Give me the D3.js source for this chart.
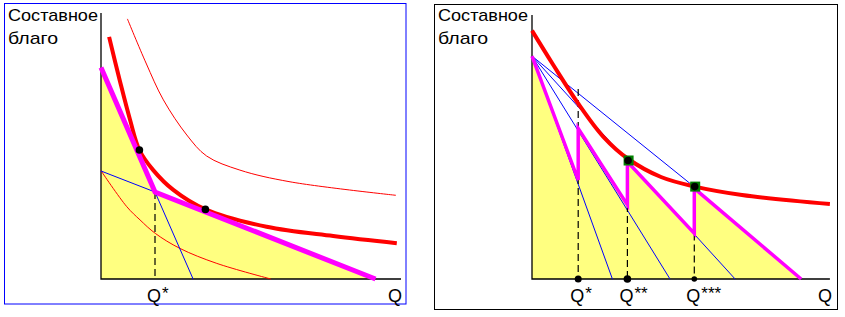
<!DOCTYPE html>
<html><head><meta charset="utf-8">
<script src="https://cdn.jsdelivr.net/npm/d3@7"></script>
<style>html,body{margin:0;padding:0;background:#fff;}svg{display:block;}</style>
</head><body>
<svg id="c" width="845" height="317"></svg>
<script>
// ---------- data (units: Q along x, composite good along y) ----------
const yLabelLines = ["Составное", "благо"];
const xAxisLabel = "Q";

// Left panel
const leftAxisMax = {x: 10, y: 8.87};
const leftBudget = [[0, 7.05], [1.8, 2.9], [9.15, 0]];
const leftBlue = [[0, 3.6], [1.8, 2.9], [3.07, 0]];
const leftIndiffMain = [[0.27, 8.07], [0.63, 6.6], [0.97, 5.3], [1.28, 4.3], [1.74, 3.63], [2.41, 2.97], [3.48, 2.32], [5.52, 1.74], [7.74, 1.43], [9.86, 1.19]];
const leftIndiffHigh = [[0.88, 8.67], [1.5, 7.2], [2.08, 5.97], [2.86, 4.8], [3.52, 4.1], [4.63, 3.63], [6.3, 3.24], [9.83, 2.79]];
const leftIndiffLow = [[0, 3.61], [0.86, 2.41], [1.3, 1.97], [1.81, 1.52], [2.63, 1.02], [3.86, 0.52], [5.66, 0]];
const leftTangency = [[1.28, 4.3], [3.48, 2.32]];
const leftQStar = {q: 1.8, top: 2.9};
const leftQLabels = [{q: 1.8, stars: 1}];

// Right panel
const rightAxisMax = {x: 9.93, y: 8.8};
const rightBudget = [[0, 7.43], [1.54, 3.3], [1.54, 5.02], [3.18, 2.47], [3.18, 3.91], [5.41, 1.52], [5.41, 3.02], [8.97, 0]];
const rightRayOrigin = [0, 7.43];
const rightRayEnds = [[2.68, 0], [4.6, 0], [6.77, 0], [5.41, 3.07]];
const rightIndiff = [[0, 8.28], [0.7, 7.15], [1.54, 5.85], [2.38, 4.74], [3.21, 4.0], [4.3, 3.4], [5.43, 3.08], [7.0, 2.8], [9.93, 2.5]];
const rightOptima = [[3.22, 3.95], [5.44, 3.08]];
const rightDrops = [{q: 1.54, top: 6.33}, {q: 3.18, top: 2.47}, {q: 5.41, top: 1.52}];
const rightAxisDots = [{q: 1.54, r: 3.5}, {q: 3.18, r: 3.8}, {q: 5.41, r: 2.8}];
const rightQLabels = [{q: 1.54, stars: 1}, {q: 3.18, stars: 2}, {q: 5.41, stars: 3}];

// ---------- drawing ----------
const svg = d3.select("#c");
const FONT = "'Liberation Sans', Arial, sans-serif";

function panel(opt) {
  const x = d3.scaleLinear([0, 10], [opt.x0, opt.x0 + 300]);
  const y = d3.scaleLinear([0, 9], [279, 9]);
  const g = svg.append("g");
  const line = d3.line().x(d => x(d[0])).y(d => y(d[1]));
  const curve = d3.line().x(d => x(d[0])).y(d => y(d[1])).curve(d3.curveCatmullRom.alpha(0.5));

  g.append("rect").attr("x", opt.border[0]).attr("y", opt.border[1])
    .attr("width", opt.border[2]).attr("height", opt.border[3])
    .attr("fill", "none").attr("stroke", opt.borderColor).attr("stroke-width", 1);

  // yellow budget set
  const poly = [[0, 0]].concat(opt.budget).concat([[opt.budget[opt.budget.length - 1][0], 0]]);
  g.append("path").attr("d", line(poly) + "Z").attr("fill", "#ffff80").attr("stroke", "none");

  // axes
  g.append("path").attr("d", line([[0, opt.axisMax.y], [0, 0], [opt.axisMax.x, 0]]))
    .attr("fill", "none").attr("stroke", "#000").attr("stroke-width", 1.3);

  return {g, x, y, line, curve};
}

// LEFT
const L = panel({x0: 101, border: [4.5, 3.5, 401.5, 300.5], borderColor: "#0000ff", axisMax: leftAxisMax, budget: leftBudget});
L.g.append("path").attr("d", L.curve(leftIndiffLow)).attr("fill", "none").attr("stroke", "#ff0000").attr("stroke-width", 1);
L.g.append("path").attr("d", L.curve(leftIndiffHigh)).attr("fill", "none").attr("stroke", "#ff0000").attr("stroke-width", 1);
L.g.append("path").attr("d", L.line([[leftQStar.q, leftQStar.top], [leftQStar.q, 0]]))
  .attr("stroke", "#000").attr("stroke-width", 1.2).attr("stroke-dasharray", "7,4");
L.g.append("path").attr("d", L.line(leftBlue)).attr("fill", "none").attr("stroke", "#0000ff").attr("stroke-width", 1);
L.g.append("path").attr("d", L.curve(leftIndiffMain)).attr("fill", "none").attr("stroke", "#ff0000").attr("stroke-width", 4);
L.g.append("path").attr("d", L.line(leftBudget)).attr("fill", "none").attr("stroke", "#ff00ff").attr("stroke-width", 5);
L.g.selectAll("circle.t").data(leftTangency).join("circle")
  .attr("cx", d => L.x(d[0])).attr("cy", d => L.y(d[1])).attr("r", 3.8).attr("fill", "#000");

// RIGHT
const R = panel({x0: 532, border: [434.5, 4.5, 403, 305], borderColor: "#000", axisMax: rightAxisMax, budget: rightBudget});
R.g.selectAll("path.ray").data(rightRayEnds).join("path")
  .attr("d", d => R.line([rightRayOrigin, d])).attr("fill", "none").attr("stroke", "#0000ff").attr("stroke-width", 1);
R.g.selectAll("path.drop").data(rightDrops).join("path")
  .attr("d", d => R.line([[d.q, d.top], [d.q, 0]]))
  .attr("stroke", "#000").attr("stroke-width", 1.2).attr("stroke-dasharray", "7,4");
R.g.append("path").attr("d", R.curve(rightIndiff)).attr("fill", "none").attr("stroke", "#ff0000").attr("stroke-width", 4);
R.g.append("path").attr("d", R.line(rightBudget)).attr("fill", "none").attr("stroke", "#ff00ff").attr("stroke-width", 3.5).attr("stroke-linejoin", "miter");
R.g.selectAll("rect.opt").data(rightOptima).join("rect")
  .attr("x", d => R.x(d[0]) - 5).attr("y", d => R.y(d[1]) - 5).attr("width", 10).attr("height", 10).attr("fill", "#007f00");
R.g.selectAll("circle.opt").data(rightOptima).join("circle")
  .attr("cx", d => R.x(d[0]) - 0.5).attr("cy", d => R.y(d[1])).attr("r", 3.8).attr("fill", "#000");
R.g.selectAll("circle.ax").data(rightAxisDots).join("circle")
  .attr("cx", d => R.x(d.q)).attr("cy", R.y(0)).attr("r", d => d.r).attr("fill", "#000");

// text
function labels(P, tx, qLabels, qEnd) {
  yLabelLines.forEach((t, i) => {
    P.g.append("text").attr("x", tx).attr("y", [21, 44][i]).attr("font-family", FONT).attr("font-size", 17)
      .attr("fill", "#000").attr("textLength", i === 0 ? 90 : 50).attr("lengthAdjust", "spacingAndGlyphs").text(t);
  });
  qLabels.forEach(d => {
    const t = P.g.append("text").attr("x", P.x(d.q) - 8).attr("y", 302).attr("font-family", FONT).attr("font-size", 18).attr("fill", "#000");
    t.append("tspan").text("Q");
    t.append("tspan").attr("dy", -3).attr("font-size", 17).attr("dx", 1).text("*".repeat(d.stars));
  });
  P.g.append("text").attr("x", P.x(qEnd)).attr("y", 302).attr("text-anchor", "end").attr("font-family", FONT).attr("font-size", 18).attr("fill", "#000").text(xAxisLabel);
}
labels(L, 8, leftQLabels, 10.03);
labels(R, 438, rightQLabels, 10.0);
</script>
</body></html>
